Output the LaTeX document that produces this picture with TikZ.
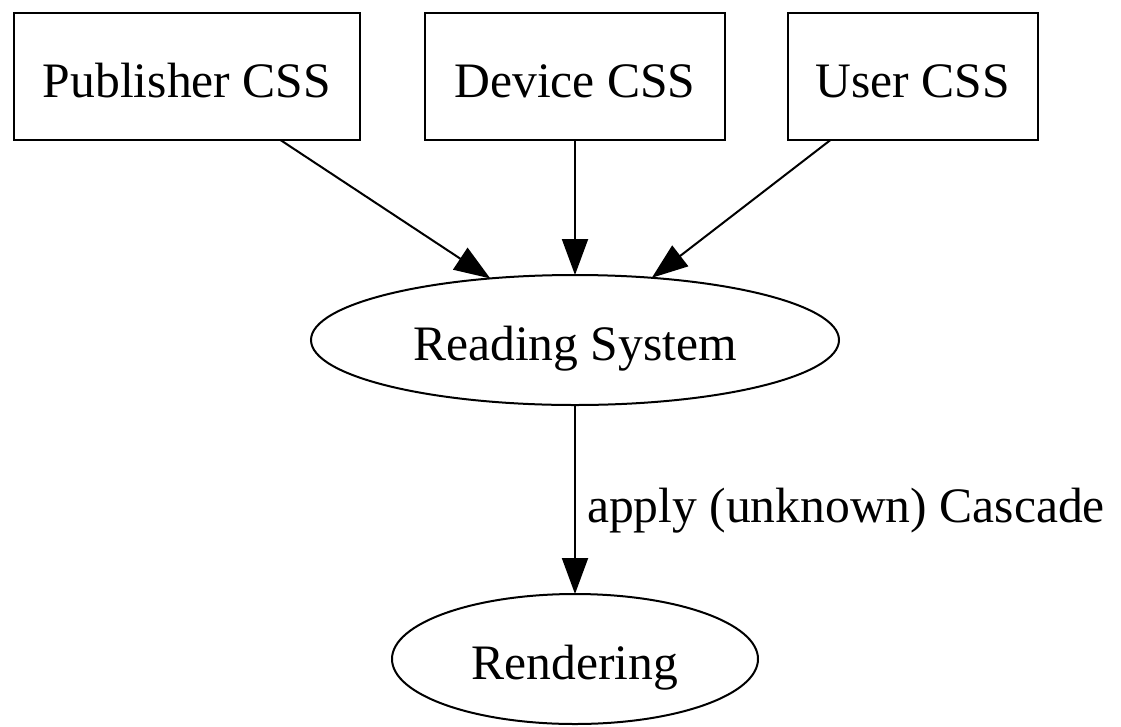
\documentclass[tikz,border=0pt]{standalone}
\usepackage{fontspec}
\setmainfont{Liberation Serif}
\usetikzlibrary{arrows.meta,shapes.geometric,calc}
\begin{document}
\begin{tikzpicture}[x=1pt,y=-1pt,
  every node/.style={font=\fontsize{49.6}{59}\selectfont, outer sep=0pt, inner sep=0pt},
  box/.style={draw, line width=2pt, rectangle, minimum height=127pt, text height=42pt, text depth=0pt},
  oval/.style={draw, line width=2pt, ellipse, minimum height=130pt, text height=40pt, text depth=0pt},
  edge/.style={line width=2pt, -{Triangle[length=36pt,width=26pt]}}]
\useasboundingbox (0,0) rectangle (1121,726);
\node[box, minimum width=346pt] (P) at (187,76.5) {Publisher CSS};
\node[box, minimum width=300pt] (D) at (575,76.5) {Device CSS};
\node[box, minimum width=250pt] (U) at (913,76.5) {User CSS};
\node[oval, minimum width=528pt] (R) at (575,340) {Reading System};
\node[oval, minimum width=366pt] (N) at (575,659) {Rendering};
\draw[edge] ($(P.south west)!0.77!(P.south east)$) -- (R.144);
\draw[edge] (D.south) -- (R.north);
\draw[edge] ($(U.south west)!0.17!(U.south east)$) -- (R.39);
\draw[edge] (R.south) -- (N.north);
\node[anchor=base west] (L) at (587,522) {apply (unknown) Cascade};
\end{tikzpicture}
\end{document}
